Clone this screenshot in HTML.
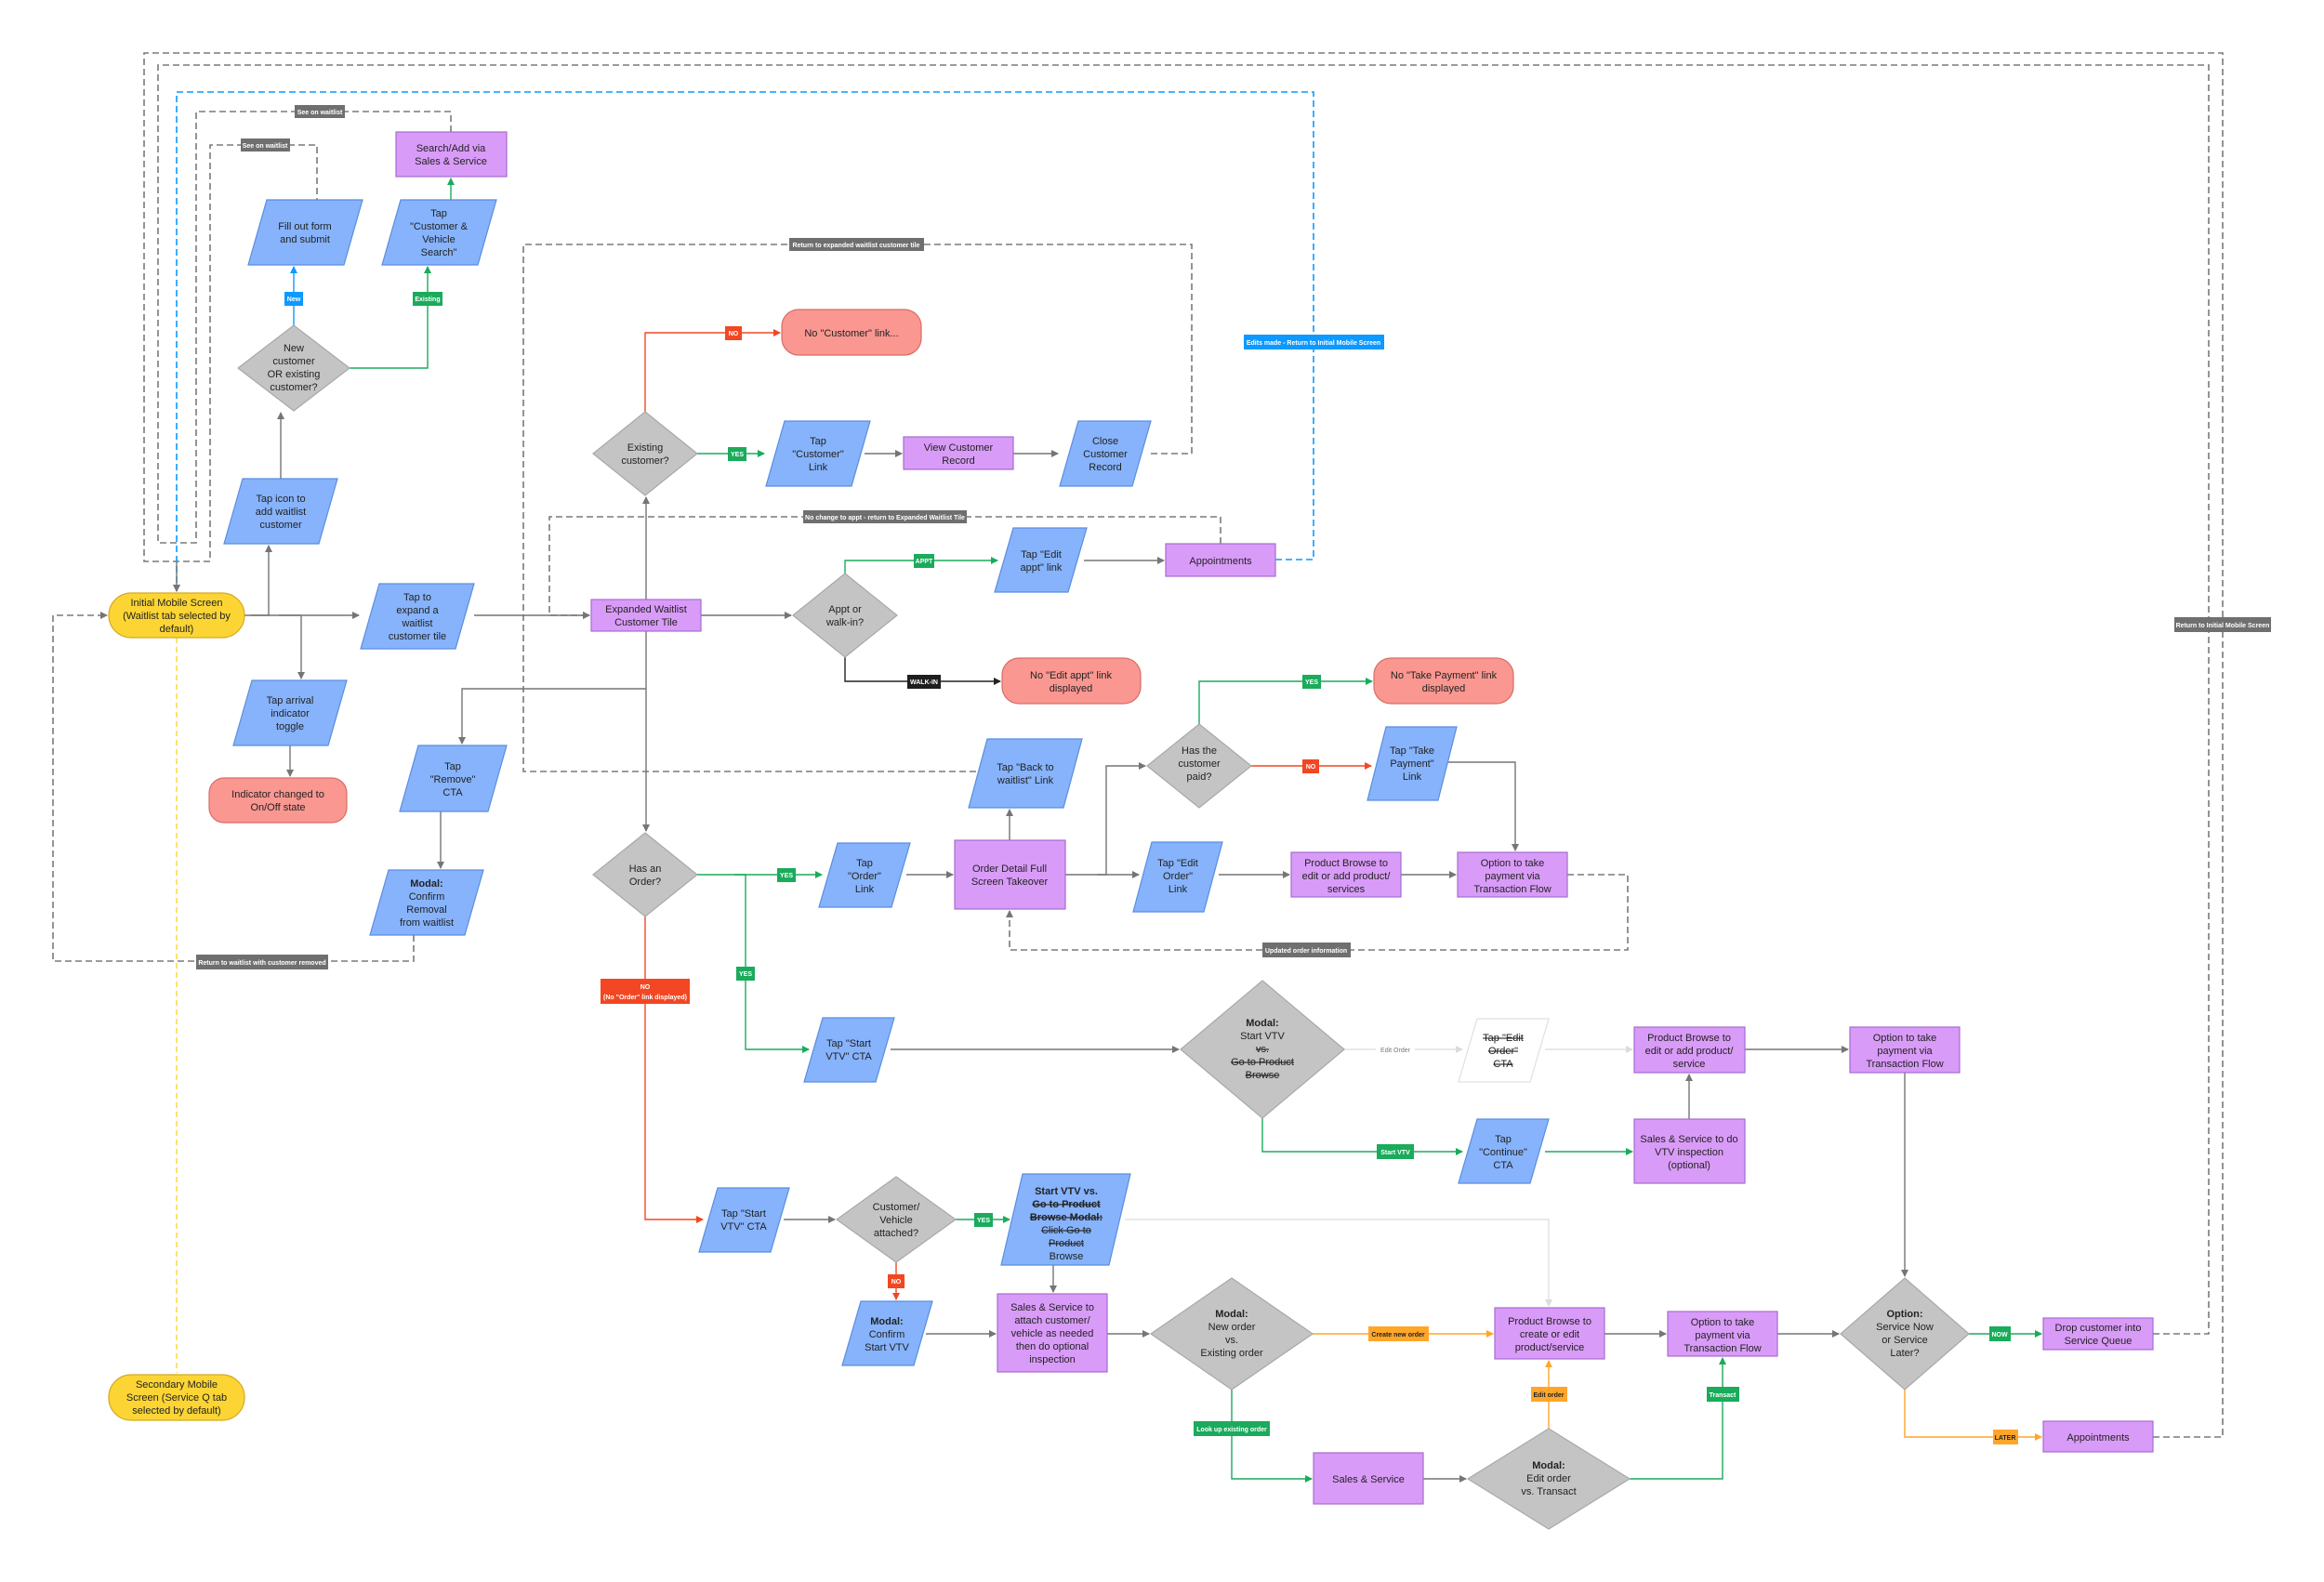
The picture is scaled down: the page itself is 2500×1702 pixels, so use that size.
<!DOCTYPE html>
<html><head><meta charset="utf-8"><style>
html,body{margin:0;padding:0;background:#fff;}
svg{display:block;}
text{font-family:"Liberation Sans",sans-serif;font-size:11px;fill:#222;text-anchor:middle;}
.l{font-size:7px;fill:#fff;font-weight:bold;}
.b{font-weight:bold;}
.s{text-decoration:line-through;}
.pb{fill:#86b3fb;stroke:#5a8de0;stroke-width:1.2;}
.pp{fill:#d99bf8;stroke:#a66bd1;stroke-width:1.2;}
.dg{fill:#c4c4c4;stroke:#a8a8a8;stroke-width:1.2;}
.sa{fill:#f99790;stroke:#d86d67;stroke-width:1.2;}
.ye{fill:#fcd535;stroke:#d4aa1f;stroke-width:1.2;}
.e{fill:none;stroke:#757575;stroke-width:1.4;}
.dsh{fill:none;stroke:#7a7a7a;stroke-width:1.6;stroke-dasharray:7 4;}
.g{fill:none;stroke:#1aab5b;stroke-width:1.4;}
.r{fill:none;stroke:#f24722;stroke-width:1.4;}
.o{fill:none;stroke:#ffa629;stroke-width:1.4;}
.k{fill:none;stroke:#222;stroke-width:1.4;}
.lg{fill:none;stroke:#e2e2e2;stroke-width:1.4;}
</style></head><body>
<svg width="2500" height="1702" viewBox="0 0 2500 1702" xmlns="http://www.w3.org/2000/svg">
<defs>
<marker id="a" markerWidth="8" markerHeight="8" refX="7" refY="4" orient="auto" markerUnits="userSpaceOnUse"><path d="M0,0 L8,4 L0,8z" fill="#757575"/></marker>
<marker id="ag" markerWidth="8" markerHeight="8" refX="7" refY="4" orient="auto" markerUnits="userSpaceOnUse"><path d="M0,0 L8,4 L0,8z" fill="#1aab5b"/></marker>
<marker id="ar" markerWidth="8" markerHeight="8" refX="7" refY="4" orient="auto" markerUnits="userSpaceOnUse"><path d="M0,0 L8,4 L0,8z" fill="#f24722"/></marker>
<marker id="ao" markerWidth="8" markerHeight="8" refX="7" refY="4" orient="auto" markerUnits="userSpaceOnUse"><path d="M0,0 L8,4 L0,8z" fill="#ffa629"/></marker>
<marker id="ab" markerWidth="8" markerHeight="8" refX="7" refY="4" orient="auto" markerUnits="userSpaceOnUse"><path d="M0,0 L8,4 L0,8z" fill="#0d99ff"/></marker>
<marker id="ak" markerWidth="8" markerHeight="8" refX="7" refY="4" orient="auto" markerUnits="userSpaceOnUse"><path d="M0,0 L8,4 L0,8z" fill="#222"/></marker>
<marker id="al" markerWidth="8" markerHeight="8" refX="7" refY="4" orient="auto" markerUnits="userSpaceOnUse"><path d="M0,0 L8,4 L0,8z" fill="#dcdcdc"/></marker>
</defs>

<!-- dashed loops -->
<path class="dsh" d="M2316,1546 H2391 V57 H155 V604 H226 V156 H341 V215"/>
<path class="dsh" d="M2316,1435 H2376 V70 H170 V584 H211 V120 H485 V142"/>
<path d="M1372,602 H1413 V99 H190 V636" fill="none" stroke="#0d99ff" stroke-width="1.6" stroke-dasharray="7 4" marker-end="url(#ab)"/>
<path class="e" d="M190,604 V636" marker-end="url(#a)"/>
<path class="dsh" d="M1238,488 H1282 V263 H563 V830 H1050"/>
<path class="dsh" d="M1313,585 V556 H591 V662 H634" marker-end="url(#a)"/>
<path class="dsh" d="M445,1006 V1034 H57 V662 H115" marker-end="url(#a)"/>
<path class="dsh" d="M1686,941 H1751 V1022 H1086 V980" marker-end="url(#a)"/>
<path d="M190,686 V1477" fill="none" stroke="#fcd535" stroke-width="1.4" stroke-dasharray="6 4"/>

<!-- edges -->
<path class="e" d="M263,662 H386" marker-end="url(#a)"/>
<path class="e" d="M270,662 H289 V587" marker-end="url(#a)"/>
<path class="e" d="M300,662 H324 V730" marker-end="url(#a)"/>
<path class="e" d="M312,802 V835" marker-end="url(#a)"/>
<path class="e" d="M302,515 V444" marker-end="url(#a)"/>
<path d="M316,350 V287" fill="none" stroke="#0d99ff" stroke-width="1.4" marker-end="url(#ab)"/>
<path class="g" d="M376,396 H460 V287" marker-end="url(#ag)"/>
<path class="g" d="M485,215 V192" marker-end="url(#ag)"/>
<path class="e" d="M510,662 H634" marker-end="url(#a)"/>
<path class="e" d="M695,645 V535" marker-end="url(#a)"/>
<path class="r" d="M694,443 V358 H839" marker-end="url(#ar)"/>
<path class="g" d="M750,488 H822" marker-end="url(#ag)"/>
<path class="e" d="M930,488 H970" marker-end="url(#a)"/>
<path class="e" d="M1090,488 H1138" marker-end="url(#a)"/>
<path class="e" d="M754,662 H851" marker-end="url(#a)"/>
<path class="g" d="M909,617 V603 H1073" marker-end="url(#ag)"/>
<path class="e" d="M1166,603 H1252" marker-end="url(#a)"/>
<path class="k" d="M909,707 V733 H1076" marker-end="url(#ak)"/>
<path class="e" d="M695,679 V894" marker-end="url(#a)"/>
<path class="e" d="M695,741 H497 V800" marker-end="url(#a)"/>
<path class="e" d="M474,873 V934" marker-end="url(#a)"/>
<path class="g" d="M750,941 H884" marker-end="url(#ag)"/>
<path class="g" d="M790,941 H802 V1129 H870" marker-end="url(#ag)"/>
<path class="e" d="M975,941 H1025" marker-end="url(#a)"/>
<path class="e" d="M1086,904 V871" marker-end="url(#a)"/>
<path class="e" d="M1146,941 H1225" marker-end="url(#a)"/>
<path class="e" d="M1180,941 H1190 V824 H1232" marker-end="url(#a)"/>
<path class="g" d="M1290,779 V733 H1476" marker-end="url(#ag)"/>
<path class="r" d="M1346,824 H1475" marker-end="url(#ar)"/>
<path class="e" d="M1557,820 H1630 V915" marker-end="url(#a)"/>
<path class="e" d="M1311,941 H1387" marker-end="url(#a)"/>
<path class="e" d="M1507,941 H1566" marker-end="url(#a)"/>
<path class="e" d="M958,1129 H1268" marker-end="url(#a)"/>
<path class="lg" d="M1446,1129 H1573" marker-end="url(#al)"/>
<path class="lg" d="M1662,1129 H1756" marker-end="url(#al)"/>
<path class="g" d="M1358,1203 V1239 H1573" marker-end="url(#ag)"/>
<path class="g" d="M1662,1239 H1756" marker-end="url(#ag)"/>
<path class="e" d="M1817,1204 V1156" marker-end="url(#a)"/>
<path class="e" d="M1877,1129 H1988" marker-end="url(#a)"/>
<path class="e" d="M2049,1154 V1373" marker-end="url(#a)"/>
<path class="r" d="M694,986 V1312 H756" marker-end="url(#ar)"/>
<path class="e" d="M843,1312 H898" marker-end="url(#a)"/>
<path class="g" d="M1028,1312 H1086" marker-end="url(#ag)"/>
<path class="lg" d="M1210,1312 H1666 V1405" marker-end="url(#al)"/>
<path class="e" d="M1133,1361 V1390" marker-end="url(#a)"/>
<path class="r" d="M964,1358 V1398" marker-end="url(#ar)"/>
<path class="e" d="M996,1435 H1071" marker-end="url(#a)"/>
<path class="e" d="M1191,1435 H1236" marker-end="url(#a)"/>
<path class="o" d="M1412,1435 H1606" marker-end="url(#ao)"/>
<path class="g" d="M1325,1495 V1591 H1411" marker-end="url(#ag)"/>
<path class="e" d="M1531,1591 H1577" marker-end="url(#a)"/>
<path class="o" d="M1666,1537 V1464" marker-end="url(#ao)"/>
<path class="g" d="M1753,1591 H1853 V1461" marker-end="url(#ag)"/>
<path class="e" d="M1726,1435 H1792" marker-end="url(#a)"/>
<path class="e" d="M1912,1435 H1978" marker-end="url(#a)"/>
<path class="g" d="M2118,1435 H2196" marker-end="url(#ag)"/>
<path class="o" d="M2049,1495 V1546 H2196" marker-end="url(#ao)"/>

<!-- labels -->
<rect x="317" y="113" width="54" height="14" fill="#6f6f6f"/><text class="l" x="344" y="123">See on waitlist</text>
<rect x="259" y="149" width="53" height="14" fill="#6f6f6f"/><text class="l" x="285" y="159">See on waitlist</text>
<rect x="306" y="314" width="20" height="15" fill="#0d99ff"/><text class="l" x="316" y="324">New</text>
<rect x="444" y="314" width="32" height="15" fill="#1aab5b"/><text class="l" x="460" y="324">Existing</text>
<rect x="849" y="256" width="145" height="14" fill="#6f6f6f"/><text class="l" x="921" y="266">Return to expanded waitlist customer tile</text>
<rect x="864" y="549" width="176" height="14" fill="#6f6f6f"/><text class="l" x="952" y="559">No change to appt - return to Expanded Waitlist Tile</text>
<rect x="1338" y="360" width="151" height="16" fill="#0d99ff"/><text class="l" x="1413" y="371">Edits made - Return to Initial Mobile Screen</text>
<rect x="2339" y="664" width="104" height="16" fill="#6f6f6f"/><text class="l" x="2391" y="675">Return to Initial Mobile Screen</text>
<rect x="780" y="351" width="18" height="15" fill="#f24722"/><text class="l" x="789" y="361">NO</text>
<rect x="783" y="481" width="20" height="15" fill="#1aab5b"/><text class="l" x="793" y="491">YES</text>
<rect x="983" y="596" width="22" height="15" fill="#1aab5b"/><text class="l" x="994" y="606">APPT</text>
<rect x="976" y="726" width="36" height="15" fill="#1e1e1e"/><text class="l" x="994" y="736">WALK-IN</text>
<rect x="1401" y="726" width="20" height="15" fill="#1aab5b"/><text class="l" x="1411" y="736">YES</text>
<rect x="1401" y="817" width="18" height="15" fill="#f24722"/><text class="l" x="1410" y="827">NO</text>
<rect x="836" y="934" width="20" height="15" fill="#1aab5b"/><text class="l" x="846" y="944">YES</text>
<rect x="792" y="1040" width="20" height="15" fill="#1aab5b"/><text class="l" x="802" y="1050">YES</text>
<rect x="646" y="1053" width="96" height="27" fill="#f24722"/><text class="l" x="694" y="1064">NO</text><text class="l" x="694" y="1075">(No "Order" link displayed)</text>
<rect x="211" y="1027" width="142" height="16" fill="#6f6f6f"/><text class="l" x="282" y="1038">Return to waitlist with customer removed</text>
<rect x="1358" y="1014" width="95" height="16" fill="#6f6f6f"/><text class="l" x="1405" y="1025">Updated order information</text>
<rect x="1480" y="1123" width="42" height="12" fill="#fff"/><text x="1501" y="1132" style="font-size:7px;fill:#777">Edit Order</text>
<rect x="1481" y="1231" width="40" height="16" fill="#1aab5b"/><text class="l" x="1501" y="1242">Start VTV</text>
<rect x="1048" y="1305" width="20" height="15" fill="#1aab5b"/><text class="l" x="1058" y="1315">YES</text>
<rect x="955" y="1371" width="18" height="15" fill="#f24722"/><text class="l" x="964" y="1381">NO</text>
<rect x="1472" y="1427" width="65" height="16" fill="#ffa629"/><text class="l" x="1504" y="1438" style="fill:#222">Create new order</text>
<rect x="1284" y="1529" width="82" height="16" fill="#1aab5b"/><text class="l" x="1325" y="1540">Look up existing order</text>
<rect x="1647" y="1492" width="39" height="16" fill="#ffa629"/><text class="l" x="1666" y="1503" style="fill:#222">Edit order</text>
<rect x="1836" y="1492" width="35" height="16" fill="#1aab5b"/><text class="l" x="1853" y="1503">Transact</text>
<rect x="2140" y="1427" width="23" height="16" fill="#1aab5b"/><text class="l" x="2151" y="1438">NOW</text>
<rect x="2144" y="1538" width="27" height="16" fill="#ffa629"/><text class="l" x="2157" y="1549" style="fill:#222">LATER</text>

<!-- nodes -->
<polygon class="pb" points="287,215 390,215 370,285 267,285"/><text x="328" y="247">Fill out form</text><text x="328" y="261">and submit</text>
<polygon class="pb" points="431,215 534,215 514,285 411,285"/><text x="472" y="233">Tap</text><text x="472" y="247">"Customer &amp;</text><text x="472" y="261">Vehicle</text><text x="472" y="275">Search"</text>
<rect class="pp" x="426" y="142" width="119" height="48"/><text x="485" y="163">Search/Add via</text><text x="485" y="177">Sales &amp; Service</text>
<polygon class="dg" points="316,350 376,396 316,442 256,396"/><text x="316" y="378">New</text><text x="316" y="392">customer</text><text x="316" y="406">OR existing</text><text x="316" y="420">customer?</text>
<polygon class="pb" points="261,515 363,515 343,585 241,585"/><text x="302" y="540">Tap icon to</text><text x="302" y="554">add waitlist</text><text x="302" y="568">customer</text>
<rect class="ye" x="117" y="638" width="146" height="48" rx="24"/><text x="190" y="652">Initial Mobile Screen</text><text x="190" y="666">(Waitlist tab selected by</text><text x="190" y="680">default)</text>
<polygon class="pb" points="408,628 510,628 490,698 388,698"/><text x="449" y="646">Tap to</text><text x="449" y="660">expand a</text><text x="449" y="674">waitlist</text><text x="449" y="688">customer tile</text>
<polygon class="pb" points="271,732 373,732 353,802 251,802"/><text x="312" y="757">Tap arrival</text><text x="312" y="771">indicator</text><text x="312" y="785">toggle</text>
<rect class="sa" x="225" y="837" width="148" height="48" rx="16"/><text x="299" y="858">Indicator changed to</text><text x="299" y="872">On/Off state</text>
<polygon class="pb" points="450,802 545,802 525,873 430,873"/><text x="487" y="828">Tap</text><text x="487" y="842">"Remove"</text><text x="487" y="856">CTA</text>
<polygon class="pb" points="418,936 520,936 500,1006 398,1006"/><text class="b" x="459" y="954">Modal:</text><text x="459" y="968">Confirm</text><text x="459" y="982">Removal</text><text x="459" y="996">from waitlist</text>
<rect class="pp" x="636" y="645" width="118" height="34"/><text x="695" y="659">Expanded Waitlist</text><text x="695" y="673">Customer Tile</text>
<polygon class="dg" points="694,443 750,488 694,533 638,488"/><text x="694" y="485">Existing</text><text x="694" y="499">customer?</text>
<rect class="sa" x="841" y="333" width="150" height="49" rx="18"/><text x="916" y="362">No "Customer" link...</text>
<polygon class="pb" points="844,453 936,453 916,523 824,523"/><text x="880" y="478">Tap</text><text x="880" y="492">"Customer"</text><text x="880" y="506">Link</text>
<rect class="pp" x="972" y="470" width="118" height="35"/><text x="1031" y="485">View Customer</text><text x="1031" y="499">Record</text>
<polygon class="pb" points="1160,453 1238,453 1218,523 1140,523"/><text x="1189" y="478">Close</text><text x="1189" y="492">Customer</text><text x="1189" y="506">Record</text>
<polygon class="dg" points="909,617 965,662 909,707 853,662"/><text x="909" y="659">Appt or</text><text x="909" y="673">walk-in?</text>
<polygon class="pb" points="1090,568 1169,568 1149,637 1070,637"/><text x="1120" y="600">Tap "Edit</text><text x="1120" y="614">appt" link</text>
<rect class="pp" x="1254" y="585" width="118" height="35"/><text x="1313" y="607">Appointments</text>
<rect class="sa" x="1078" y="708" width="149" height="49" rx="18"/><text x="1152" y="730">No "Edit appt" link</text><text x="1152" y="744">displayed</text>
<polygon class="pb" points="1062,795 1164,795 1144,869 1042,869"/><text x="1103" y="829">Tap "Back to</text><text x="1103" y="843">waitlist" Link</text>
<polygon class="dg" points="1290,779 1346,824 1290,869 1234,824"/><text x="1290" y="811">Has the</text><text x="1290" y="825">customer</text><text x="1290" y="839">paid?</text>
<rect class="sa" x="1478" y="708" width="150" height="49" rx="18"/><text x="1553" y="730">No "Take Payment" link</text><text x="1553" y="744">displayed</text>
<polygon class="pb" points="1491,782 1567,782 1547,861 1471,861"/><text x="1519" y="811">Tap "Take</text><text x="1519" y="825">Payment"</text><text x="1519" y="839">Link</text>
<polygon class="dg" points="694,896 750,941 694,986 638,941"/><text x="694" y="938">Has an</text><text x="694" y="952">Order?</text>
<polygon class="pb" points="901,907 979,907 959,976 881,976"/><text x="930" y="932">Tap</text><text x="930" y="946">"Order"</text><text x="930" y="960">Link</text>
<rect class="pp" x="1027" y="904" width="119" height="74"/><text x="1086" y="938">Order Detail Full</text><text x="1086" y="952">Screen Takeover</text>
<polygon class="pb" points="1239,906 1315,906 1295,981 1219,981"/><text x="1267" y="932">Tap "Edit</text><text x="1267" y="946">Order"</text><text x="1267" y="960">Link</text>
<rect class="pp" x="1389" y="917" width="118" height="48"/><text x="1448" y="932">Product Browse to</text><text x="1448" y="946">edit or add product/</text><text x="1448" y="960">services</text>
<rect class="pp" x="1568" y="917" width="118" height="48"/><text x="1627" y="932">Option to take</text><text x="1627" y="946">payment via</text><text x="1627" y="960">Transaction Flow</text>
<polygon class="pb" points="885,1095 962,1095 942,1164 865,1164"/><text x="913" y="1126">Tap "Start</text><text x="913" y="1140">VTV" CTA</text>
<polygon class="dg" points="1358,1055 1446,1129 1358,1203 1270,1129"/><text class="b" x="1358" y="1104">Modal:</text><text x="1358" y="1118">Start VTV</text><text class="s" x="1358" y="1132">vs.</text><text class="s" x="1358" y="1146">Go to Product</text><text class="s" x="1358" y="1160">Browse</text>
<polygon points="1589,1096 1666,1096 1646,1164 1569,1164" fill="#fff" stroke="#e0e0e0" stroke-width="1.2"/><text class="s" x="1617" y="1120">Tap "Edit</text><text class="s" x="1617" y="1134">Order"</text><text class="s" x="1617" y="1148">CTA</text>
<rect class="pp" x="1758" y="1105" width="119" height="49"/><text x="1817" y="1120">Product Browse to</text><text x="1817" y="1134">edit or add product/</text><text x="1817" y="1148">service</text>
<rect class="pp" x="1990" y="1105" width="118" height="49"/><text x="2049" y="1120">Option to take</text><text x="2049" y="1134">payment via</text><text x="2049" y="1148">Transaction Flow</text>
<polygon class="pb" points="1589,1204 1666,1204 1646,1273 1569,1273"/><text x="1617" y="1229">Tap</text><text x="1617" y="1243">"Continue"</text><text x="1617" y="1257">CTA</text>
<rect class="pp" x="1758" y="1204" width="119" height="69"/><text x="1817" y="1229">Sales &amp; Service to do</text><text x="1817" y="1243">VTV inspection</text><text x="1817" y="1257">(optional)</text>
<polygon class="pb" points="772,1278 849,1278 829,1347 752,1347"/><text x="800" y="1309">Tap "Start</text><text x="800" y="1323">VTV" CTA</text>
<polygon class="dg" points="964,1266 1028,1312 964,1358 900,1312"/><text x="964" y="1302">Customer/</text><text x="964" y="1316">Vehicle</text><text x="964" y="1330">attached?</text>
<polygon class="pb" points="1100,1263 1216,1263 1193,1361 1077,1361"/><text class="b" x="1147" y="1285">Start VTV vs.</text><text class="b s" x="1147" y="1299">Go to Product</text><text class="b s" x="1147" y="1313">Browse Modal:</text><text class="s" x="1147" y="1327">Click Go to</text><text class="s" x="1147" y="1341">Product</text><text x="1147" y="1355">Browse</text>
<polygon class="pb" points="926,1400 1003,1400 983,1469 906,1469"/><text class="b" x="954" y="1425">Modal:</text><text x="954" y="1439">Confirm</text><text x="954" y="1453">Start VTV</text>
<rect class="pp" x="1073" y="1392" width="118" height="84"/><text x="1132" y="1410">Sales &amp; Service to</text><text x="1132" y="1424">attach customer/</text><text x="1132" y="1438">vehicle as needed</text><text x="1132" y="1452">then do optional</text><text x="1132" y="1466">inspection</text>
<polygon class="dg" points="1325,1375 1412,1435 1325,1495 1238,1435"/><text class="b" x="1325" y="1417">Modal:</text><text x="1325" y="1431">New order</text><text x="1325" y="1445">vs.</text><text x="1325" y="1459">Existing order</text>
<rect class="pp" x="1608" y="1407" width="118" height="55"/><text x="1667" y="1425">Product Browse to</text><text x="1667" y="1439">create or edit</text><text x="1667" y="1453">product/service</text>
<rect class="pp" x="1794" y="1411" width="118" height="48"/><text x="1853" y="1426">Option to take</text><text x="1853" y="1440">payment via</text><text x="1853" y="1454">Transaction Flow</text>
<polygon class="dg" points="2049,1375 2118,1435 2049,1495 1980,1435"/><text class="b" x="2049" y="1417">Option:</text><text x="2049" y="1431">Service Now</text><text x="2049" y="1445">or Service</text><text x="2049" y="1459">Later?</text>
<rect class="pp" x="2198" y="1418" width="118" height="34"/><text x="2257" y="1432">Drop customer into</text><text x="2257" y="1446">Service Queue</text>
<rect class="pp" x="2198" y="1529" width="118" height="33"/><text x="2257" y="1550">Appointments</text>
<rect class="pp" x="1413" y="1563" width="118" height="55"/><text x="1472" y="1595">Sales &amp; Service</text>
<polygon class="dg" points="1666,1537 1753,1591 1666,1645 1579,1591"/><text class="b" x="1666" y="1580">Modal:</text><text x="1666" y="1594">Edit order</text><text x="1666" y="1608">vs. Transact</text>
<rect class="ye" x="117" y="1479" width="146" height="49" rx="24"/><text x="190" y="1493">Secondary Mobile</text><text x="190" y="1507">Screen (Service Q tab</text><text x="190" y="1521">selected by default)</text>
</svg>
</body></html>
